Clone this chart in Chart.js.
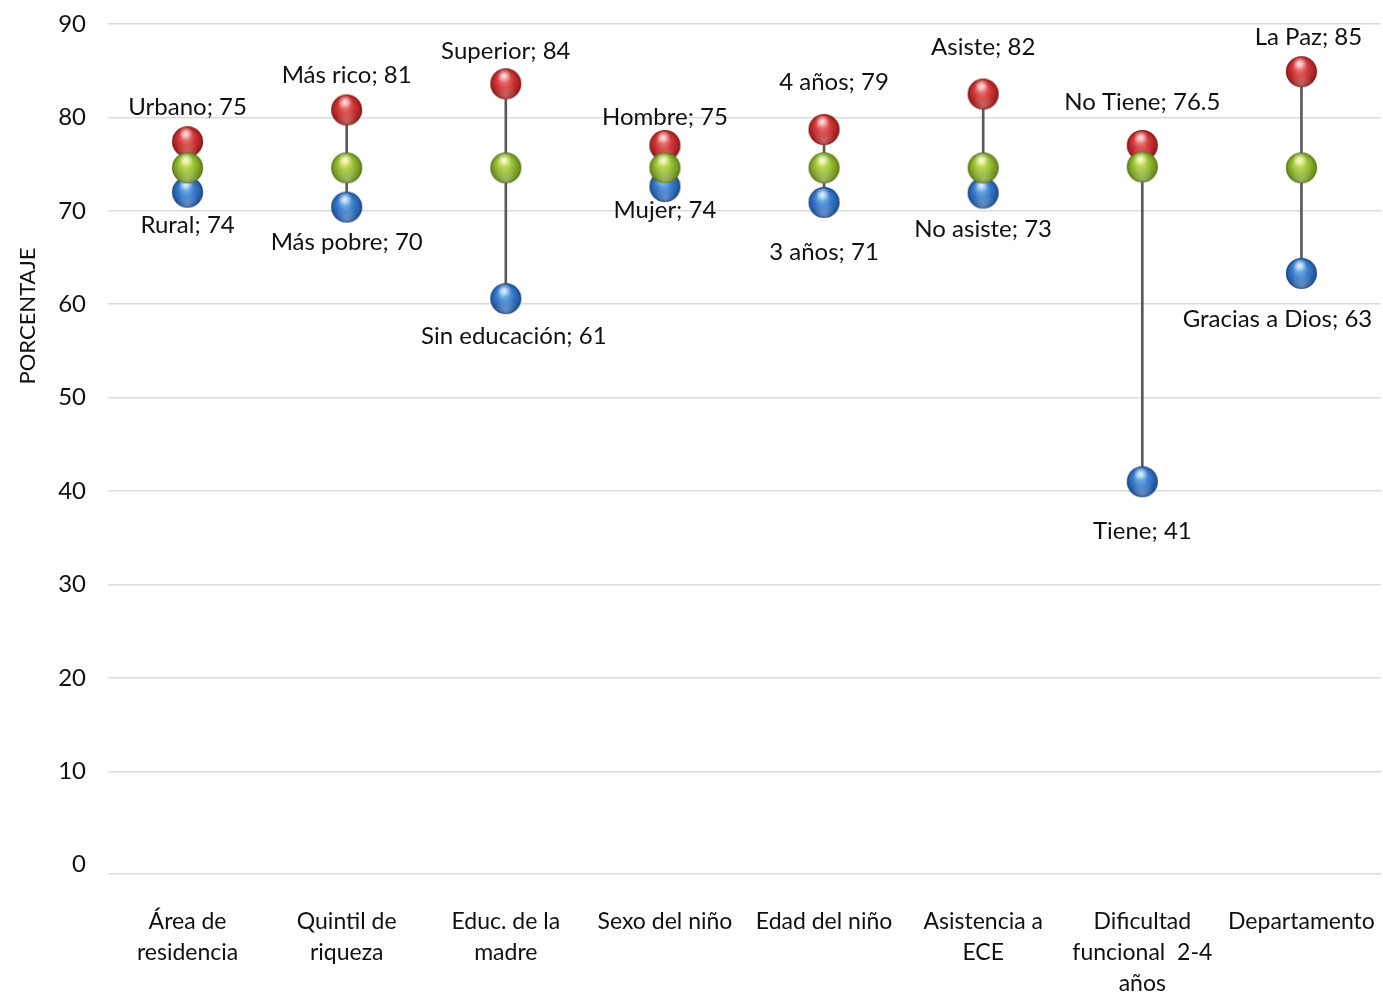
<!DOCTYPE html>
<html>
<head>
<meta charset="utf-8">
<script src="https://cdn.jsdelivr.net/npm/chart.js@4.4.1/dist/chart.umd.min.js"></script>
<style>
  html, body { margin: 0; padding: 0; background: #ffffff; overflow: hidden; }
  #wrap { width: 1383px; height: 994px; position: relative; overflow: hidden; }
  #c { display: block; }
</style>
</head>
<body>
<div id="wrap"><canvas id="c"></canvas></div>
<script>
// ---- data ----
const categories = [
  ['Área de', 'residencia'],
  ['Quintil de', 'riqueza'],
  ['Educ. de la', 'madre'],
  'Sexo del niño',
  'Edad del niño',
  ['Asistencia a', 'ECE'],
  ['Dificultad', 'funcional  2-4', 'años'],
  'Departamento'
];
const highValues = [77.4, 80.8, 83.6, 77.0, 78.7, 82.5, 77.0, 84.9];
const avgValues  = [74.6, 74.6, 74.6, 74.6, 74.6, 74.6, 74.7, 74.6];
const lowValues  = [72.0, 70.4, 60.6, 72.6, 70.9, 71.9, 41.0, 63.3];
const highNames  = ['Urbano', 'Más rico', 'Superior', 'Hombre', '4 años', 'Asiste', 'No Tiene', 'La Paz'];
const highLabelValues = ['75', '81', '84', '75', '79', '82', '76.5', '85'];
const lowNames   = ['Rural', 'Más pobre', 'Sin educación', 'Mujer', '3 años', 'No asiste', 'Tiene', 'Gracias a Dios'];
const lowLabelValues  = ['74', '70', '61', '74', '71', '73', '41', '63'];
const yTicks = [0, 10, 20, 30, 40, 50, 60, 70, 80, 90];
const yTitle = 'PORCENTAJE';

// ---- label placement (pixel offsets from the point, as placed in the original) ----
const highLabelOffsets = [[0,-34],[0,-35],[0,-33],[0,-28],[10,-47],[0,-47],[0,-43],[7,-34]];
const lowLabelOffsets  = [[0,33],[0,35],[8,38],[0,24],[0,50],[0,36],[0,50],[-24,46]];

const FONT = 'Lato, "Open Sans", "Noto Sans", sans-serif';

function makeSphere(light, base, dark, r) {
  const s = Math.ceil(r * 2 + 4);
  const cv = document.createElement('canvas');
  cv.width = s; cv.height = s;
  const g = cv.getContext('2d');
  const c = s / 2;
  const grad = g.createRadialGradient(c - r * 0.15, c - r * 0.45, r * 0.05, c, c, r * 1.05);
  grad.addColorStop(0, light);
  grad.addColorStop(0.45, base);
  grad.addColorStop(1, dark);
  g.beginPath(); g.arc(c, c, r, 0, Math.PI * 2); g.fillStyle = grad; g.fill();
  const grad2 = g.createRadialGradient(c, c + r * 0.75, r * 0.05, c, c + r * 0.6, r * 0.7);
  grad2.addColorStop(0, 'rgba(255,255,255,0.28)');
  grad2.addColorStop(1, 'rgba(255,255,255,0)');
  g.beginPath(); g.arc(c, c, r, 0, Math.PI * 2); g.fillStyle = grad2; g.fill();
  const grad3 = g.createRadialGradient(c - r * 0.1, c - r * 0.55, 0, c - r * 0.1, c - r * 0.55, r * 0.45);
  grad3.addColorStop(0, 'rgba(255,255,255,0.75)');
  grad3.addColorStop(1, 'rgba(255,255,255,0)');
  g.beginPath(); g.arc(c, c, r, 0, Math.PI * 2); g.fillStyle = grad3; g.fill();
  g.beginPath(); g.arc(c, c, r - 0.5, 0, Math.PI * 2);
  g.strokeStyle = 'rgba(0,0,0,0.18)'; g.lineWidth = 1; g.stroke();
  return cv;
}
const R = 15.5;
const redSphere   = makeSphere('#f5a0a0', '#d63a3a', '#8e1616', R);
const greenSphere = makeSphere('#eef07a', '#9cc23a', '#5e7e14', R);
const blueSphere  = makeSphere('#9fd0f5', '#3a7fd0', '#1a4a8e', R);

const labelPlugin = {
  id: 'pointLabels',
  afterDatasetsDraw(chart) {
    const ctx = chart.ctx;
    ctx.save();
    ctx.font = '24px ' + FONT;
    ctx.fillStyle = '#111111';
    ctx.textAlign = 'center';
    ctx.textBaseline = 'middle';
    const hi = chart.getDatasetMeta(1).data;
    const lo = chart.getDatasetMeta(2).data;
    hi.forEach((p, i) => {
      const o = highLabelOffsets[i];
      ctx.fillText(highNames[i] + '; ' + highLabelValues[i], p.x + o[0], p.y + o[1]);
    });
    lo.forEach((p, i) => {
      const o = lowLabelOffsets[i];
      ctx.fillText(lowNames[i] + '; ' + lowLabelValues[i], p.x + o[0], p.y + o[1]);
    });
    ctx.font = '22px ' + FONT;
    ctx.translate(28, 316);
    ctx.rotate(-Math.PI / 2);
    ctx.fillText(yTitle, 0, 0);
    ctx.restore();
  }
};

new Chart(document.getElementById('c'), {
  data: {
    labels: categories,
    datasets: [
      {
        type: 'bar',
        label: 'rango',
        data: lowValues.map((v, i) => [v, highValues[i]]),
        backgroundColor: '#595959',
        borderWidth: 0,
        barThickness: 2,
        order: 3
      },
      {
        type: 'line',
        label: 'alto',
        data: highValues,
        showLine: false,
        pointStyle: redSphere,
        pointRadius: R,
        pointHoverRadius: R,
        order: 2
      },
      {
        type: 'line',
        label: 'bajo',
        data: lowValues,
        showLine: false,
        pointStyle: blueSphere,
        pointRadius: R,
        pointHoverRadius: R,
        order: 1
      },
      {
        type: 'line',
        label: 'promedio',
        data: avgValues,
        showLine: false,
        pointStyle: greenSphere,
        pointRadius: R,
        pointHoverRadius: R,
        order: 0
      }
    ]
  },
  options: {
    responsive: true,
    maintainAspectRatio: false,
    animation: false,
    layout: { autoPadding: false, padding: { left: 0, right: 2, top: 24, bottom: 0 } },
    plugins: { legend: { display: false }, tooltip: { enabled: false } },
    scales: {
      x: {
        type: 'category',
        offset: true,
        grid: { display: false, drawTicks: false },
        border: { display: false },
        ticks: {
          color: '#111111',
          font: { family: FONT, size: 23, lineHeight: 1.35 },
          padding: 32,
          maxRotation: 0,
          autoSkip: false
        },
        afterFit(scale) { scale.height = 120; scale.paddingLeft = 0; scale.paddingRight = 0; }
      },
      y: {
        type: 'linear',
        min: -1,
        max: 90,
        afterBuildTicks(scale) {
          scale.ticks = [{ value: -1 }].concat(yTicks.map(v => ({ value: v })));
        },
        grid: {
          drawTicks: false,
          lineWidth: 1.5,
          color: (c) => (c.tick && c.tick.value === 0) ? 'rgba(0,0,0,0)' : '#dcdcdc'
        },
        border: { display: false },
        ticks: {
          color: '#111111',
          font: { family: FONT, size: 24 },
          padding: 22,
          callback: (v) => (v === -1 ? '' : String(v))
        },
        afterFit(scale) { scale.width = 108; scale.paddingTop = 0; scale.paddingBottom = 0; }
      }
    }
  },
  plugins: [labelPlugin]
});
</script>
</body>
</html>
